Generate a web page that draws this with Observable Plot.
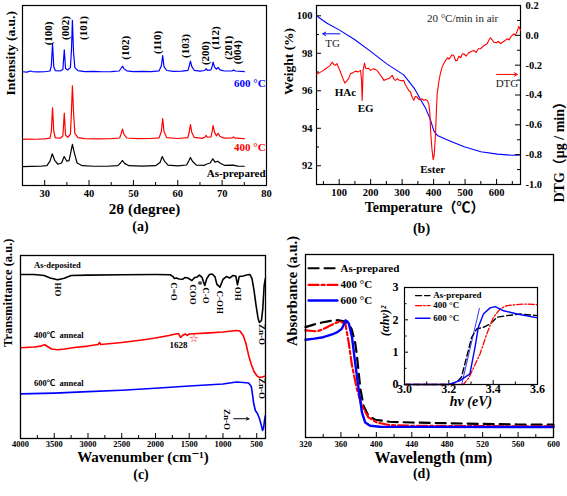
<!DOCTYPE html>
<html>
<head>
<meta charset="utf-8">
<script src="https://cdn.jsdelivr.net/npm/d3@7"></script>
<script src="https://cdn.jsdelivr.net/npm/@observablehq/plot@0.6"></script>
<style>
  html, body { margin: 0; padding: 0; background: #fff; }
  #fig { position: relative; width: 567px; height: 496px; overflow: hidden; background: #fff; }
</style>
</head>
<body>
<div id="fig"></div>
<script>
// ---------------- (a) XRD ----------------
const xrdTicks = [30, 40, 50, 60, 70, 80];
const xrdMinorTicks = [35, 45, 55, 65, 75];
const xrdAsPrepared = [[25,10.5],[27,10.6],[29,10.7],[30.5,11],[31.2,13.5],[31.7,17.6],[32.3,13.8],[33,11.8],[33.8,12.5],[34.4,16.1],[35,13.5],[35.5,13.8],[35.9,18.5],[36.25,22.8],[36.7,18],[37.3,12.5],[38.5,11],[41,10.7],[44,10.7],[46.5,11],[47.1,12.5],[47.5,13.9],[48,12.3],[49,11],[52,10.8],[55,11],[56,12.8],[56.5,16.1],[57,13.5],[57.8,11.3],[60,10.9],[62,11.4],[62.5,13.8],[62.85,15.6],[63.3,13.5],[64.2,11.3],[66,11.2],[66.4,11.8],[67.3,12.5],[67.9,14.8],[68.4,13],[69,13.5],[69.5,12.5],[70.5,11.2],[72.5,11.3],[73.5,10.8],[75,10.7]];
const xrd400 = [[25,25.6],[26.5,25.8],[28,25.7],[30,25.9],[31.2,26.3],[31.5,30],[31.77,43.2],[32.05,30],[32.4,26.5],[33.5,26.3],[34.1,27.5],[34.42,40.2],[34.7,28],[35.2,26.8],[35.8,28.5],[36.05,42],[36.25,55.4],[36.5,41],[36.8,29],[37.5,26.6],[39,26],[42,25.9],[45,26],[46.9,26.4],[47.2,28.5],[47.54,31.3],[47.9,28.2],[48.5,26.4],[51,26],[54,26.1],[55.8,26.5],[56.3,30],[56.6,37.1],[56.9,30],[57.5,26.6],[60,26.1],[62.3,26.6],[62.6,30],[62.86,33.8],[63.15,29.6],[63.7,26.7],[65.5,26.2],[66.1,26.8],[66.38,27.8],[66.7,26.8],[67.5,27],[67.75,30],[67.96,33.3],[68.3,29.5],[68.7,27.6],[69.1,29],[69.5,27.2],[70.5,26.3],[72.2,26.4],[72.56,27],[73,26.3],[75,26]];
const xrd600 = [[25,63.2],[26,63.0],[26.8,63.6],[27.3,63.2],[28.5,63.1],[30,63.2],[31.2,63.6],[31.5,66.5],[31.77,78.7],[32.05,66],[32.4,63.8],[33.5,63.6],[34.1,64.5],[34.42,75.4],[34.7,65],[35.2,64.2],[35.8,65.5],[36.05,76],[36.25,91.7],[36.5,74],[36.8,65.5],[37.5,63.8],[39,63.3],[41,63.4],[43,63.2],[45,63.3],[46.8,63.6],[47.2,65],[47.54,66.3],[47.9,64.8],[48.5,63.7],[50,63.3],[52,63.4],[54,63.3],[55.8,63.7],[56.3,66.5],[56.6,72.2],[56.9,66],[57.5,63.9],[59,63.4],[61,63.5],[62.3,64],[62.6,66.5],[62.86,69.1],[63.15,66.2],[63.7,64],[65,63.5],[66.1,63.9],[66.38,64.9],[66.7,64],[67.5,64.2],[67.75,66.2],[67.96,68.5],[68.3,65.8],[68.7,64.6],[69.1,65.6],[69.5,64.2],[70.5,63.6],[72.2,63.6],[72.56,64.1],[73,63.6],[75,63.3]];
const hklLabels = ["(100)","(002)","(101)","(102)","(110)","(103)","(200)","(112)","(201)","(004)"];
const hklAngle = [30.8, 34.7, 38.8, 48.2, 55.5, 61.8, 66.3, 68.5, 71.4, 73.5];
const hklHeight = [84.5, 87.5, 87.5, 76.5, 79.5, 77.5, 73.5, 82, 76.5, 74];
const xrdSeriesNames = ["As-prepared", "400 °C", "600 °C"];
const xrdSeriesHeight = [6.5, 21.3, 56.8];

// ---------------- (b) TGA / DTG ----------------
const tgaTempTicks = [100, 200, 300, 400, 500, 600];
const tgaTempMinor = [50, 150, 250, 350, 450, 550, 650];
const weightTicks = [92, 94, 96, 98, 100];
const weightMinor = [93, 95, 97, 99];
const dtgTicks = [-1.0, -0.8, -0.6, -0.4, -0.2, 0.0, 0.2];
const dtgMinor = [-0.9, -0.7, -0.5, -0.3, -0.1, 0.1];
const tgCurve = [[28,100],[60,99.62],[100,99.25],[150,98.72],[200,98.1],[250,97.45],[305,96.85],[340,96.1],[358,95.55],[375,95.05],[390,94.45],[401,93.85],[412,93.62],[444,93.37],[497,93.01],[550,92.75],[603,92.62],[650,92.56],[676,92.58]];
const dtgCurve = [[28,-0.262],[38,-0.25],[46,-0.24],[52,-0.232],[57,-0.224],[63,-0.215],[70,-0.205],[78,-0.18],[83,-0.195],[88,-0.2],[93,-0.19],[98,-0.215],[104,-0.246],[110,-0.28],[118,-0.32],[125.5,-0.302],[130,-0.29],[136,-0.257],[144,-0.25],[152,-0.24],[160,-0.245],[168,-0.235],[171,-0.3],[173,-0.436],[175,-0.32],[176,-0.235],[180.5,-0.186],[184,-0.22],[187,-0.224],[193,-0.22],[199.5,-0.235],[207,-0.225],[215,-0.228],[222,-0.24],[231,-0.268],[236,-0.28],[242,-0.302],[250,-0.295],[258,-0.29],[263,-0.28],[268.5,-0.268],[274,-0.295],[279,-0.302],[285,-0.29],[289.5,-0.3],[297,-0.305],[305,-0.302],[310,-0.33],[316,-0.351],[321,-0.37],[326.6,-0.38],[331,-0.41],[337,-0.436],[342,-0.41],[348,-0.414],[353,-0.43],[358,-0.431],[363,-0.425],[369,-0.436],[374,-0.43],[379.6,-0.436],[384.7,-0.46],[388,-0.52],[391,-0.66],[395,-0.77],[398.7,-0.833],[402,-0.8],[406,-0.66],[409,-0.5],[411.4,-0.391],[416.5,-0.313],[421,-0.26],[427,-0.213],[432,-0.19],[437.8,-0.168],[445,-0.15],[449,-0.16],[453.7,-0.146],[458,-0.13],[464,-0.135],[470,-0.17],[475,-0.168],[480,-0.14],[486,-0.15],[491,-0.125],[496,-0.123],[503,-0.14],[510,-0.12],[518,-0.11],[527.7,-0.101],[535,-0.115],[542,-0.09],[549,-0.09],[556,-0.075],[563,-0.065],[570,-0.056],[575,-0.035],[580.7,-0.016],[586,-0.03],[591,-0.046],[600,-0.05],[606,-0.04],[612.5,-0.056],[620,-0.045],[627,-0.035],[633.8,-0.023],[640,-0.03],[647,-0.005],[654.8,0.01],[660,0.0],[666,0.03],[670.7,0.06],[676,0.033]];
const dtgPeakNames = ["HAc", "EG", "Ester"];
const dtgPeakTemp = [120, 184, 397];
const dtgPeakValue = [-0.385, -0.492, -0.899];

// ---------------- (c) FTIR ----------------
const waveTicks = [4000, 3500, 3000, 2500, 2000, 1500, 1000, 500];
const waveMinor = [3750, 3250, 2750, 2250, 1750, 1250, 750];
const ftirAsDeposited = [[4000,89.6],[3800,89.6],[3650,89.1],[3560,87.7],[3450,86.7],[3350,87.6],[3250,89.1],[3000,89.3],[2500,89.5],[2000,89.6],[1780,89.5],[1740,88.5],[1720,87.4],[1690,87.7],[1650,87.2],[1600,87.0],[1560,88.0],[1520,87.7],[1460,86.3],[1420,88.0],[1380,88.3],[1350,89.3],[1310,88.0],[1270,83.6],[1240,87.4],[1200,89.6],[1160,89.9],[1120,88.5],[1090,84.2],[1045,82.7],[1000,86.9],[950,88.5],[900,87.7],[850,89.1],[810,88.8],[785,83.9],[760,88.5],[700,88.8],[650,89.3],[600,89.6],[570,87.4],[540,80.9],[510,72.7],[480,65.6],[460,63.4],[430,64.5],[410,71.0],[390,83.6],[372,87.4]];
const ftir400 = [[4000,49.6],[3800,50.0],[3700,50.5],[3640,51.2],[3600,50.3],[3540,48.9],[3450,48.5],[3350,48.9],[3200,49.7],[3000,50.5],[2850,51.4],[2830,52.5],[2810,51.4],[2500,52.5],[2200,53.8],[2000,54.9],[1800,56.3],[1700,57.1],[1660,57.4],[1628,55.2],[1600,56.3],[1560,57.1],[1530,56.3],[1500,57.1],[1200,57.7],[1000,58.2],[800,59.0],[750,58.7],[700,56.3],[660,51.9],[620,45.4],[580,40.4],[540,36.6],[500,34.4],[460,33.3],[420,33.6],[372,34.2]];
const ftir600 = [[4000,24.4],[3500,24.8],[3000,25.6],[2500,26.4],[2000,27.5],[1500,28.7],[1000,29.8],[800,30.9],[700,30.6],[620,30.3],[580,28.4],[560,23.4],[545,19.1],[520,15.3],[490,13.7],[460,10.9],[435,7.7],[415,4.4],[400,5.5],[385,9.8],[372,12.6]];
const bondLabels = ["HO", "C=O", "COO", "C-O", "C-OH", "OH", "Zn-O", "Zn-O", "Zn-O"];
const bondWave = [3440, 1721, 1449, 1252, 1040, 782, 427, 427, 935];
const bondLevel = [81.4, 80.3, 78.7, 78.1, 74.5, 79.1, 56.8, 27.3, 10.4];
const ftirSeriesNames = ["As-deposited", "400℃  anneal", "600℃  anneal"];
const ftirSeriesLevel = [94.9, 56.3, 30.1];

// ---------------- (d) UV-vis ----------------
const lambdaTicks = [320, 360, 400, 440, 480, 520, 560, 600];
const lambdaMinor = [340, 380, 420, 460, 500, 540, 580];
const uvAsPrepared = [[320,60.3],[330,61.8],[340,63],[350,63.9],[356,64.1],[362,63.6],[367,62.7],[372,59.4],[376,52.1],[378,45],[380,35.6],[382,26.5],[385.5,17.4],[391,11.9],[398.7,9.7],[415,8.6],[440,8.2],[480,7.8],[520,7.4],[560,7.1],[600,7.0]];
const uv400 = [[320,58.5],[333,58],[340,59.2],[348,61.2],[355,62.8],[359,63.4],[365,62.2],[368.7,52.1],[372.5,39.3],[378,26.5],[383.7,17.4],[391,11],[400.6,8.2],[415,6.8],[440,6.4],[500,6.2],[600,6.1]];
const uv600 = [[320,53.4],[330,54],[340,54.8],[350,56.3],[356,57.6],[361,59.4],[363,61.5],[365,64],[367,63.5],[369,62.2],[372.5,54.8],[376,41.1],[380,26.5],[383.7,13.7],[387.4,8.2],[393,6.4],[404,5.9],[450,5.8],[600,5.7]];
const uvSeriesNames = ["As-prepared", "400 °C", "600 °C"];
// inset Tauc plot
const energyTicks = [3.0, 3.2, 3.4, 3.6];
const energyMinor = [3.1, 3.3, 3.5];
const taucTicks = [0, 1, 2, 3];
const taucMinor = [0.5, 1.5, 2.5];
const taucAsPrepared = [[3.0,0],[3.2,0],[3.225,0.05],[3.242,0.12],[3.257,0.23],[3.28,0.84],[3.303,1.46],[3.326,1.72],[3.356,1.77],[3.386,1.87],[3.417,2.08],[3.462,2.13],[3.523,2.18],[3.6,2.13]];
const tauc400 = [[3.0,0],[3.265,0],[3.29,0.2],[3.341,0.95],[3.371,1.56],[3.401,2.08],[3.432,2.34],[3.462,2.44],[3.538,2.49],[3.6,2.47]];
const tauc600 = [[3.0,0],[3.2,0],[3.25,0.12],[3.295,0.33],[3.318,1.15],[3.333,1.77],[3.356,2.18],[3.386,2.37],[3.409,2.41],[3.447,2.28],[3.508,2.18],[3.6,2.06]];
const tauc600Tangent = [[3.258,0],[3.338,2.35]];

// ---------------- helpers ----------------
const fig = document.getElementById("fig");
const FONT = '"Liberation Serif","Noto Sans CJK SC","DejaVu Serif",serif';
const base = {background: "transparent", overflow: "visible", fontFamily: FONT, fontWeight: "bold", color: "black"};
const xy = {x: d => d[0], y: d => d[1]};
const BLUE = "#0000ff", RED = "#ff0000";
function place(svg, left, top) {
  svg.style.position = "absolute"; svg.style.left = left + "px"; svg.style.top = top + "px"; svg.style.maxWidth = "none";
  fig.appendChild(svg);
}
const bottomTicks = (vals, iH, len) => Plot.tickX(vals, {x: d => d, insetTop: iH - len, stroke: "black", strokeWidth: 1});
const leftTicks = (vals, iW, len) => Plot.tickY(vals, {y: d => d, insetRight: iW - len, stroke: "black", strokeWidth: 1});
const rightTicks = (vals, iW, len) => Plot.tickY(vals, {y: d => d, insetLeft: iW - len, stroke: "black", strokeWidth: 1});
const label = (txt, opts) => Plot.text([txt], {text: d => d, ...opts});
const at = (x, y, txt, opts) => Plot.text([txt], {x: () => x, y: () => y, text: d => d, ...opts});

// ---------------- panel (a) ----------------
{
  const W = 283, H = 245, ml = 22, mr = 17, mt = 5, mb = 60, iH = H - mt - mb;
  const colors = ["black", RED, BLUE];
  place(Plot.plot({
    width: W, height: H, marginLeft: ml, marginRight: mr, marginTop: mt, marginBottom: mb,
    x: {domain: [25, 80]}, y: {domain: [0, 100], axis: null}, style: base,
    marks: [
      bottomTicks(xrdTicks, iH, 5), bottomTicks(xrdMinorTicks, iH, 3),
      Plot.axisX({ticks: xrdTicks, tickSize: 0, tickPadding: 4, label: null, fontSize: 10.5, tickFormat: d => String(d)}),
      Plot.line(xrdAsPrepared, {...xy, stroke: "black", strokeWidth: 1.2}),
      Plot.line(xrd400, {...xy, stroke: RED, strokeWidth: 1.2}),
      Plot.line(xrd600, {...xy, stroke: BLUE, strokeWidth: 1.2}),
      Plot.text(hklLabels, {x: (d, i) => hklAngle[i], y: (d, i) => hklHeight[i], text: d => d, rotate: -90, fontSize: 11}),
      ...xrdSeriesNames.map((n, i) => at(79.8, xrdSeriesHeight[i], n, {textAnchor: "end", fill: colors[i], fontSize: 11})),
      label("2θ (degree)", {frameAnchor: "bottom", dy: 28, fontSize: 15}),
      label("(a)", {frameAnchor: "bottom", dy: 45, dx: -4, fontSize: 14}),
      label("Intensity (a.u.)", {frameAnchor: "left", dx: -12, rotate: -90, fontSize: 13.5}),
      Plot.frame({stroke: "black", strokeWidth: 1.2})
    ]
  }), 0, 0);
}

// ---------------- panel (b) ----------------
{
  const W = 284, H = 245, ml = 33, mr = 47, mt = 5, mb = 61, iH = H - mt - mb, iW = W - ml - mr;
  const common = {width: W, height: H, marginLeft: ml, marginRight: mr, marginTop: mt, marginBottom: mb, style: base};
  place(Plot.plot({
    ...common,
    x: {domain: [28, 676]}, y: {domain: [91.0, 100.55]},
    marks: [
      bottomTicks(tgaTempTicks, iH, 5), bottomTicks(tgaTempMinor, iH, 3),
      leftTicks(weightTicks, iW, 5), leftTicks(weightMinor, iW, 3),
      Plot.axisX({ticks: tgaTempTicks, tickSize: 0, tickPadding: 4, label: null, fontSize: 10.5, tickFormat: d => String(d)}),
      Plot.axisY({ticks: weightTicks, tickSize: 0, tickPadding: 4, label: null, fontSize: 10.5, tickFormat: d => String(d)}),
      Plot.line(tgCurve, {...xy, stroke: BLUE, strokeWidth: 1.1}),
      Plot.arrow([0], {x1: () => 102, x2: () => 48, y1: () => 99.04, y2: () => 99.04, stroke: BLUE, strokeWidth: 1, headLength: 5}),
      at(79, 98.54, "TG", {fontSize: 11, fontWeight: "normal", fill: "#222"}),
      label("Temperature（℃）", {frameAnchor: "bottom", dy: 27, dx: 6, fontSize: 14}),
      label("(b)", {frameAnchor: "bottom", dy: 48, dx: 3, fontSize: 14}),
      label("Weight (%)", {frameAnchor: "left", dx: -28, rotate: -90, fontSize: 13.5}),
      Plot.frame({stroke: "black", strokeWidth: 1.2})
    ]
  }), 283, 0);
  place(Plot.plot({
    ...common,
    x: {domain: [28, 676], axis: null}, y: {domain: [-1.0, 0.2]},
    marks: [
      rightTicks(dtgTicks, iW, 5), rightTicks(dtgMinor, iW, 3),
      Plot.axisY({anchor: "right", ticks: dtgTicks, tickSize: 0, tickPadding: 5, label: null, fontSize: 10.5, tickFormat: d => d.toFixed(1)}),
      Plot.line(dtgCurve, {...xy, stroke: RED, strokeWidth: 1.1}),
      Plot.arrow([0], {x1: () => 600, x2: () => 666, y1: () => -0.262, y2: () => -0.262, stroke: RED, strokeWidth: 1, headLength: 5}),
      at(633, -0.323, "DTG", {fontSize: 11, fontWeight: "normal", fill: "#222"}),
      at(492, 0.111, "20 °C/min in air", {fontSize: 11, fontWeight: "normal", fill: "#222"}),
      Plot.text(dtgPeakNames, {x: (d, i) => dtgPeakTemp[i], y: (d, i) => dtgPeakValue[i], text: d => d, fontSize: 11}),
      label("DTG（μg / min）", {frameAnchor: "right", dx: 39, rotate: -90, fontSize: 14})
    ]
  }), 283, 0);
}

// ---------------- panel (c) ----------------
{
  const W = 283, H = 251, ml = 20, mr = 18, mt = 10, mb = 58, iH = H - mt - mb;
  place(Plot.plot({
    width: W, height: H, marginLeft: ml, marginRight: mr, marginTop: mt, marginBottom: mb, style: base,
    x: {domain: [4000, 370]}, y: {domain: [0, 100], axis: null},
    marks: [
      bottomTicks(waveTicks, iH, 5), bottomTicks(waveMinor, iH, 3),
      Plot.axisX({ticks: waveTicks, tickSize: 0, tickPadding: 2, label: null, fontSize: 8.5, tickFormat: d => String(d)}),
      Plot.line(ftirAsDeposited, {...xy, stroke: "black", strokeWidth: 1.6}),
      Plot.line(ftir400, {...xy, stroke: RED, strokeWidth: 1.6}),
      Plot.line(ftir600, {...xy, stroke: BLUE, strokeWidth: 1.6}),
      Plot.text(bondLabels, {x: (d, i) => bondWave[i], y: (d, i) => bondLevel[i], text: d => d, rotate: 90, fontSize: 9}),
      at(1341, 84, "*", {fontSize: 10}),
      at(1660, 50.8, "1628", {fontSize: 9}),
      at(1430, 54.6, "☆", {fontSize: 11, fill: RED, fontWeight: "normal", fontFamily: "DejaVu Sans"}),
      Plot.arrow([0], {x1: () => 840, x2: () => 615, y1: () => 10.8, y2: () => 10.8, stroke: "black", strokeWidth: 1, headLength: 4}),
      ...ftirSeriesNames.map((n, i) => at(3800, ftirSeriesLevel[i], n, {textAnchor: "start", fontSize: 8.5})),
      label("Wavenumber (cm⁻¹)", {frameAnchor: "bottom", dy: 23.5, fontSize: 15}),
      label("(c)", {frameAnchor: "bottom", dy: 40, dx: -2, fontSize: 14}),
      label("Transmittance (a.u.)", {frameAnchor: "left", dx: -13, rotate: -90, fontSize: 12.5}),
      Plot.frame({stroke: "black", strokeWidth: 1.3})
    ]
  }), 0, 245);
}

// ---------------- panel (d) ----------------
{
  const W = 284, H = 251, ml = 22, mr = 14, mt = 9, mb = 59, iH = H - mt - mb;
  const styles = [
    {stroke: "black", strokeWidth: 2.2, strokeDasharray: "10,6"},
    {stroke: RED, strokeWidth: 2.2, strokeDasharray: "10,3,3,3"},
    {stroke: BLUE, strokeWidth: 2.4}
  ];
  const legendLevel = [92.5, 83.4, 74.9];
  place(Plot.plot({
    width: W, height: H, marginLeft: ml, marginRight: mr, marginTop: mt, marginBottom: mb, style: base,
    x: {domain: [320, 600]}, y: {domain: [0, 100], axis: null},
    marks: [
      bottomTicks(lambdaTicks, iH, 5), bottomTicks(lambdaMinor, iH, 3),
      Plot.axisX({ticks: lambdaTicks, tickSize: 0, tickPadding: 3, label: null, fontSize: 8.5, tickFormat: d => String(d)}),
      Plot.line(uvAsPrepared, {...xy, ...styles[0]}),
      Plot.line(uv400, {...xy, ...styles[1]}),
      Plot.line(uv600, {...xy, ...styles[2]}),
      ...uvSeriesNames.map((n, i) => Plot.line([[323.5, legendLevel[i]], [356, legendLevel[i]]], {...xy, ...styles[i]})),
      ...uvSeriesNames.map((n, i) => at(359.5, legendLevel[i], n, {textAnchor: "start", fontSize: 11})),
      label("Wavelength (nm)", {frameAnchor: "bottom", dy: 25, dx: 4, fontSize: 16}),
      label("(d)", {frameAnchor: "bottom", dy: 40, dx: -8, fontSize: 14}),
      label("Absorbance (a.u.)", {frameAnchor: "left", dx: -13, rotate: -90, fontSize: 14.5}),
      Plot.frame({stroke: "black", strokeWidth: 1.3})
    ]
  }), 283, 245);

  // inset
  const IW = 175, IH = 145, iml = 24, imr = 18, imt = 17, imb = 31, iiH = IH - imt - imb, iiW = IW - iml - imr;
  const istyles = [
    {stroke: "black", strokeWidth: 1.4, strokeDasharray: "6,3"},
    {stroke: RED, strokeWidth: 1.3, strokeDasharray: "6,2,1.5,2"},
    {stroke: BLUE, strokeWidth: 1.4}
  ];
  const insetLegendLevel = [2.75, 2.44, 2.05];
  place(Plot.plot({
    width: IW, height: IH, marginLeft: iml, marginRight: imr, marginTop: imt, marginBottom: imb, style: base,
    x: {domain: [3.0, 3.6]}, y: {domain: [0, 3]},
    marks: [
      bottomTicks(energyTicks, iiH, 4), bottomTicks(energyMinor, iiH, 2.5),
      leftTicks(taucTicks, iiW, 4), leftTicks(taucMinor, iiW, 2.5),
      Plot.axisX({ticks: energyTicks, tickSize: 0, tickPadding: 0, label: null, fontSize: 12, tickFormat: d => d.toFixed(1)}),
      Plot.axisY({ticks: taucTicks, tickSize: 0, tickPadding: 6, label: null, fontSize: 12, tickFormat: d => String(d)}),
      Plot.line(taucAsPrepared, {...xy, ...istyles[0]}),
      Plot.line(tauc400, {...xy, ...istyles[1]}),
      Plot.line(tauc600, {...xy, ...istyles[2]}),
      Plot.line(tauc600Tangent, {...xy, stroke: BLUE, strokeWidth: 0.8}),
      ...uvSeriesNames.map((n, i) => Plot.line([[3.05, insetLegendLevel[i]], [3.115, insetLegendLevel[i]]], {...xy, ...istyles[i]})),
      ...uvSeriesNames.map((n, i) => at(3.13, insetLegendLevel[i], n, {textAnchor: "start", fontSize: 9})),
      label("hν (eV)", {frameAnchor: "bottom", dy: 21, fontSize: 14, fontStyle: "italic"}),
      label("(αhν)²", {frameAnchor: "left", dx: -19, rotate: -90, fontSize: 12, fontStyle: "italic"}),
      Plot.frame({stroke: "black", strokeWidth: 1.2})
    ]
  }), 380, 270);
}
</script>
</body>
</html>
